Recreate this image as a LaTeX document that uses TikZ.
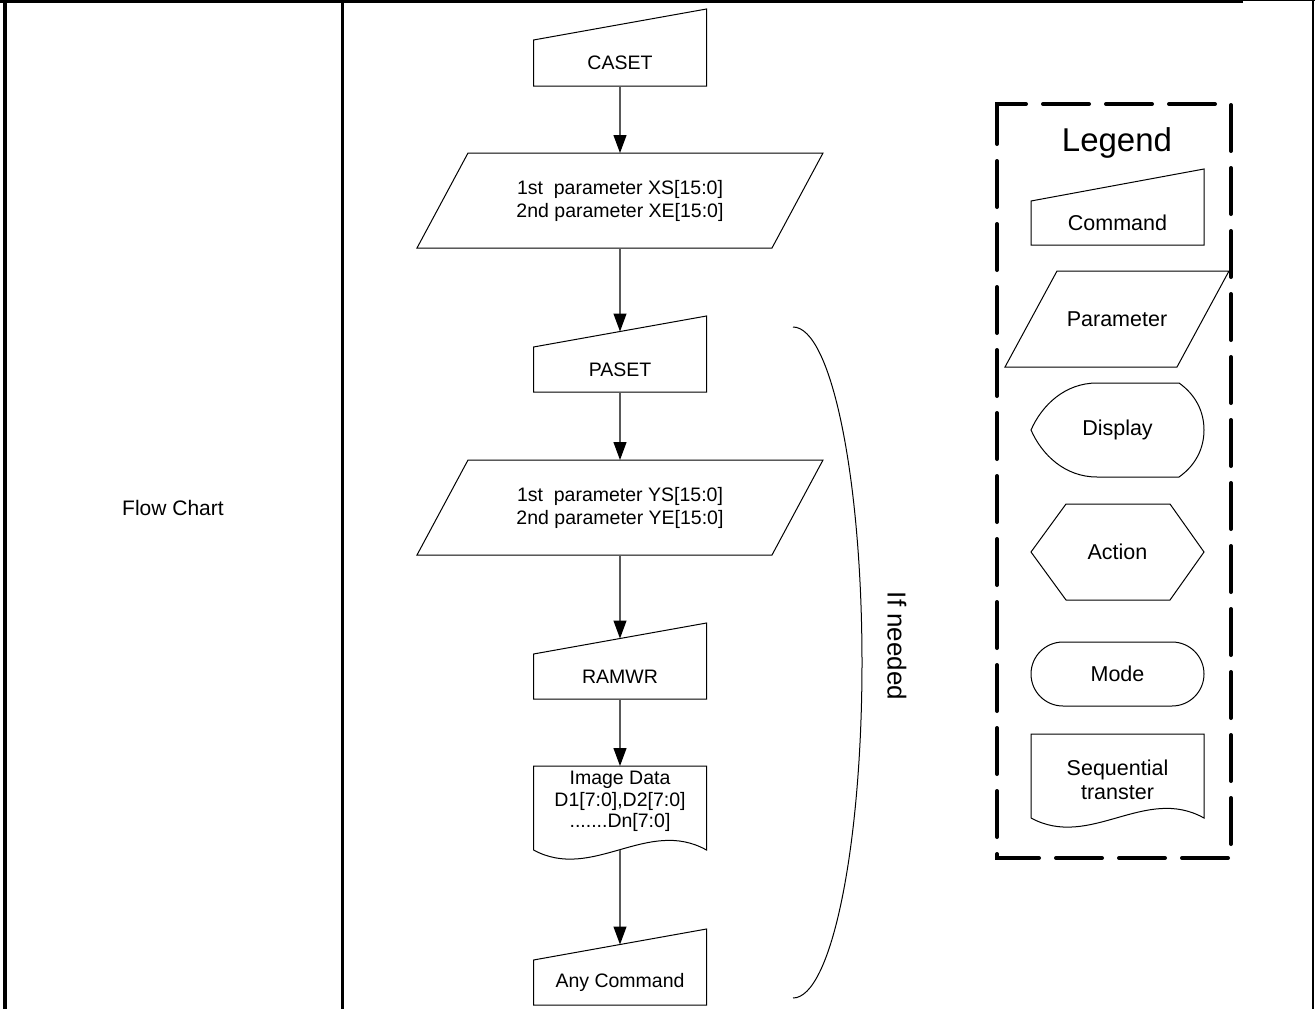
\documentclass[tikz,border=0pt]{standalone}
\usepackage{fontspec}
\setmainfont{Liberation Sans}
\usetikzlibrary{arrows.meta,calc}
\newcommand{\fsz}[2]{\fontsize{#1}{#2}\selectfont}
\begin{document}
\begin{tikzpicture}[x=1pt,y=-1pt,
  frame/.style={draw=none, inner sep=0pt, outer sep=0pt, align=center},
  shp/.style={draw=black, line width=1pt, line join=miter},
  arr/.style={draw=black!65, line width=1.2pt, -{Triangle[length=18pt,width=13pt,color=black]}},
  body/.style={font=\fsz{19.5}{23}},
  leg/.style={font=\fsz{21.5}{23.5}},
  legbox/.style={line width=4pt, dash pattern=on 46pt off 17pt, line cap=round, line join=miter},
]
\useasboundingbox (0,0) rectangle (1315,1009);
\fill[white] (0,0) rectangle (1315,1009);

% table lines
\draw[line width=4pt] (4.7,0) -- (4.7,1009);
\draw[line width=3pt] (342,0) -- (342,1009);
\draw[line width=3pt] (0,1.5) -- (1243,1.5);
\draw[line width=1.2pt] (1243,0.8) -- (1315,0.8);
\draw[line width=1.6pt] (1313,0) -- (1313,1009);

\node[font=\fsz{21}{24}] (fc) at (173,508) {Flow Chart};

% flow chart
\node[frame, body, minimum width=173pt, minimum height=46pt] (caset) at (620,63) {CASET};
\draw[shp] (caset.south west) -- (caset.south east) -- ([yshift=31pt]caset.north east) -- (caset.north west) -- cycle;

\node[frame, body, minimum width=406pt, minimum height=95pt] (p1) at (620,200.5) {1st\ \ parameter XS[15:0]\\2nd parameter XE[15:0]};
\draw[shp] ([xshift=51pt]p1.north west) -- (p1.north east) -- ([xshift=-51pt]p1.south east) -- (p1.south west) -- cycle;

\node[frame, body, minimum width=173pt, minimum height=45pt] (paset) at (620,369.5) {PASET};
\draw[shp] (paset.south west) -- (paset.south east) -- ([yshift=31pt]paset.north east) -- (paset.north west) -- cycle;

\node[frame, body, minimum width=406pt, minimum height=95pt] (p2) at (620,507.5) {1st\ \ parameter YS[15:0]\\2nd parameter YE[15:0]};
\draw[shp] ([xshift=51pt]p2.north west) -- (p2.north east) -- ([xshift=-51pt]p2.south east) -- (p2.south west) -- cycle;

\node[frame, body, minimum width=173pt, minimum height=45pt] (ramwr) at (620,676.5) {RAMWR};
\draw[shp] (ramwr.south west) -- (ramwr.south east) -- ([yshift=31pt]ramwr.north east) -- (ramwr.north west) -- cycle;

\node[frame, minimum width=173pt, minimum height=84pt] (img) at (620,808) {};
\draw[shp] (img.south west) -- (img.north west) -- (img.north east) -- (img.south east)
  .. controls ($(img.south east)+(-59,-33)$) and ($(img.south west)+(59,32)$) .. (img.south west);
\node[frame, font=\fsz{19.5}{21.5}] (imgtxt) at (620,801.5) {Image Data\\D1[7:0],D2[7:0]\\.......Dn[7:0]};

\node[frame, body, minimum width=173pt, minimum height=45pt] (anyc) at (620,982.5) {Any Command};
\draw[shp] (anyc.south west) -- (anyc.south east) -- ([yshift=31pt]anyc.north east) -- (anyc.north west) -- cycle;

\coordinate (paset-top) at ($(paset.north west)!0.5!([yshift=31pt]paset.north east)$);
\coordinate (ramwr-top) at ($(ramwr.north west)!0.5!([yshift=31pt]ramwr.north east)$);
\coordinate (anyc-top) at ($(anyc.north west)!0.5!([yshift=31pt]anyc.north east)$);

\draw[arr] (caset.south) -- (p1.north);
\draw[arr] (p1.south) -- (paset-top);
\draw[arr] (paset.south) -- (p2.north);
\draw[arr] (p2.south) -- (ramwr-top);
\draw[arr] (ramwr.south) -- (img.north);
\draw[arr] (img.south) -- (anyc-top);

% bracket
\coordinate (brtop) at (793,327);
\draw[line width=1pt] (brtop) arc[start angle=-90, end angle=90, x radius=69, y radius=335.5];
\node[rotate=-90, font=\fsz{26}{28}] (ifn) at (897,646) {If needed};

% legend
\draw[legbox] (997,121) -- (997,104) -- (1231,104) -- (1231,858) -- (997,858) -- cycle;
\node[font=\fsz{33}{36}] (legt) at (1117,143) {Legend};

\node[frame, leg, minimum width=173pt, minimum height=44pt] (lcmd) at (1117.5,223) {Command};
\draw[shp] (lcmd.south west) -- (lcmd.south east) -- ([yshift=32pt]lcmd.north east) -- (lcmd.north west) -- cycle;

\node[frame, leg, minimum width=224pt, minimum height=96pt] (lpar) at (1117,319) {Parameter};
\draw[shp] ([xshift=52pt]lpar.north west) -- (lpar.north east) -- ([xshift=-52pt]lpar.south east) -- (lpar.south west) -- cycle;

\node[frame, leg, minimum width=173pt, minimum height=94pt] (ldisp) at (1117.5,430) {Display};
\draw[shp] (1097,383) -- (1179,383) .. controls (1196,395) and (1204,412) .. (1204,430)
  .. controls (1204,448) and (1196,465) .. (1179,477) -- (1097,477)
  .. controls (1065,477) and (1042,455) .. (1031,430)
  .. controls (1042,405) and (1065,383) .. (1097,383) -- cycle;

\node[frame, leg, minimum width=173pt, minimum height=96pt] (lact) at (1117.5,552) {Action};
\draw[shp] (1031,552) -- (1066,504) -- (1170,504) -- (1204,552) -- (1170,600) -- (1066,600) -- cycle;

\node[frame, leg, minimum width=173pt, minimum height=64pt] (lmode) at (1117.5,674) {Mode};
\draw[shp, rounded corners=32pt] (lmode.north west) rectangle (lmode.south east);

\node[frame, minimum width=173pt, minimum height=84pt] (lseq) at (1117.5,776) {};
\draw[shp] (lseq.south west) -- (lseq.north west) -- (lseq.north east) -- (lseq.south east)
  .. controls ($(lseq.south east)+(-59,-33)$) and ($(lseq.south west)+(59,32)$) .. (lseq.south west);
\node[frame, leg] (lseqtxt) at (1117.5,780) {Sequential\\transter};
\end{tikzpicture}
\end{document}
